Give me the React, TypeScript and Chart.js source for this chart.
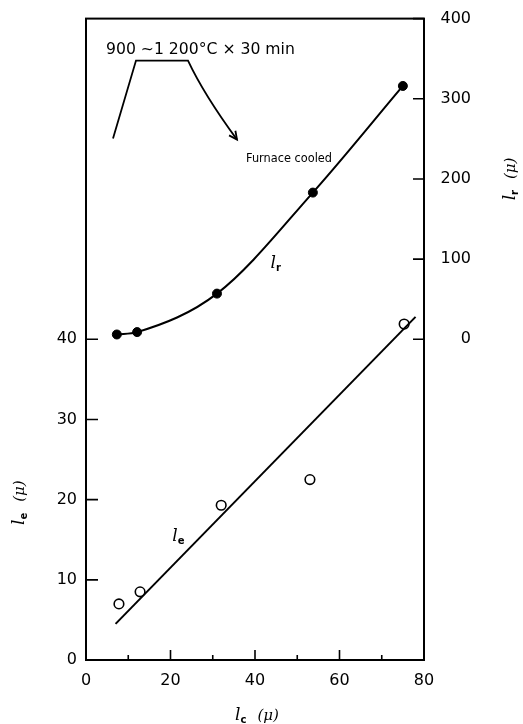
import React, { useEffect, useRef } from "react";
import { Chart, registerables } from "chart.js";

Chart.register(...registerables);

// ---- data ----
const lcFilled = [7.3, 12.1, 31.0, 53.7, 75.0]; // l_c (μ) for l_r points
const lrValues = [6, 9, 57, 183, 316]; // l_r (μ), right axis
const lcOpen = [7.8, 12.8, 32.0, 53.0, 75.3]; // l_c (μ) for l_e points
const leValues = [7.0, 8.5, 19.3, 22.5, 41.9]; // l_e (μ), left axis
const leFitX = [7.0, 78.0];
const leFitY = [4.5, 42.8];

const xTicks = [0, 20, 40, 60, 80];
const xMinorTicks = [10, 30, 50, 70];
const leftTicks = [0, 10, 20, 30, 40];
const rightTicks = [0, 100, 200, 300, 400];

const heatText = "900 ~1 200°C × 30 min";
const coolText = "Furnace cooled";
const unitText = "(μ)";

const SANS = '"DejaVu Sans", sans-serif';
const SERIF = '"DejaVu Serif", serif';

function drawSubLabel(
  ctx: CanvasRenderingContext2D,
  cx: number,
  cy: number,
  rotate: boolean,
  sub: string,
  withUnit: boolean
) {
  ctx.save();
  ctx.translate(cx, cy);
  if (rotate) ctx.rotate(-Math.PI / 2);
  const fMain = `italic 17px ${SERIF}`;
  const fSub = `bold 10px ${SANS}`;
  const fUnit = `italic 15px ${SERIF}`;
  ctx.font = fMain;
  const wl = ctx.measureText("l").width;
  ctx.font = fSub;
  const ws = ctx.measureText(sub).width + 1;
  ctx.font = fUnit;
  const wu = withUnit ? ctx.measureText(unitText).width : 0;
  const gap = withUnit ? 10 : 0;
  const total = wl + ws + gap + wu;
  let x = -total / 2;
  ctx.fillStyle = "#000";
  ctx.textBaseline = "alphabetic";
  ctx.textAlign = "left";
  ctx.font = fMain;
  ctx.fillText("l", x, 6);
  x += wl;
  ctx.font = fSub;
  ctx.fillText(sub, x, 9);
  x += ws + gap;
  if (withUnit) {
    ctx.font = fUnit;
    ctx.fillText(unitText, x, 6);
  }
  ctx.restore();
}

function fitFont(ctx: CanvasRenderingContext2D, text: string, target: number, family: string) {
  ctx.font = `14px ${family}`;
  const w = ctx.measureText(text).width;
  return (14 * target) / w;
}

const decor = {
  id: "decor",
  afterDraw(chart: any) {
    const { ctx, chartArea: a, scales } = chart;
    const sx = scales.x;
    const sy = scales.y;
    const sy2 = scales.y2;
    ctx.save();
    ctx.strokeStyle = "#000";
    ctx.lineWidth = 2;
    ctx.strokeRect(a.left, a.top, a.right - a.left, a.bottom - a.top);

    // inward tick marks
    ctx.lineWidth = 1.6;
    ctx.beginPath();
    leftTicks.forEach((v) => {
      const p = sy.getPixelForValue(v);
      ctx.moveTo(a.left, p);
      ctx.lineTo(a.left + 12, p);
    });
    rightTicks.forEach((v) => {
      const p = sy2.getPixelForValue(v);
      ctx.moveTo(a.right, p);
      ctx.lineTo(a.right - 11, p);
    });
    xTicks.forEach((v) => {
      const p = sx.getPixelForValue(v);
      ctx.moveTo(p, a.bottom);
      ctx.lineTo(p, a.bottom - 10);
    });
    xMinorTicks.forEach((v) => {
      const p = sx.getPixelForValue(v);
      ctx.moveTo(p, a.bottom);
      ctx.lineTo(p, a.bottom - 5);
    });
    ctx.stroke();

    // heat-treatment schematic (top-left inset)
    const L = a.left;
    const T = a.top;
    ctx.lineWidth = 1.8;
    ctx.beginPath();
    ctx.moveTo(L + 27, T + 120);
    ctx.lineTo(L + 50, T + 42);
    ctx.lineTo(L + 102, T + 42);
    ctx.quadraticCurveTo(L + 118, T + 76, L + 151, T + 121);
    ctx.stroke();
    // arrow head
    const tipX = L + 151;
    const tipY = T + 121;
    const ang = Math.atan2(0.81, 0.59);
    ctx.beginPath();
    ctx.moveTo(tipX - 9 * Math.cos(ang - 0.45), tipY - 9 * Math.sin(ang - 0.45));
    ctx.lineTo(tipX, tipY);
    ctx.lineTo(tipX - 9 * Math.cos(ang + 0.45), tipY - 9 * Math.sin(ang + 0.45));
    ctx.stroke();

    ctx.fillStyle = "#000";
    ctx.textAlign = "left";
    ctx.textBaseline = "alphabetic";
    const fs1 = fitFont(ctx, heatText, 189, SANS);
    ctx.font = `${fs1}px ${SANS}`;
    ctx.fillText(heatText, L + 20, T + 35);

    // "Furnace cooled", slightly condensed to the reference width
    ctx.save();
    ctx.font = `13px ${SANS}`;
    const wc = ctx.measureText(coolText).width;
    const sc = 86 / wc;
    ctx.translate(L + 160, T + 140);
    ctx.scale(sc, 1);
    ctx.textBaseline = "middle";
    ctx.fillText(coolText, 0, 0);
    ctx.restore();

    // curve labels
    drawSubLabel(ctx, sx.getPixelForValue(45), sy2.getPixelForValue(96), false, "r", false);
    drawSubLabel(ctx, sx.getPixelForValue(22), sy.getPixelForValue(15.6), false, "e", false);

    // axis titles
    const midLeft = (sy.getPixelForValue(0) + sy.getPixelForValue(40)) / 2;
    drawSubLabel(ctx, 18, midLeft + 3, true, "e", true);
    const midRight = (sy2.getPixelForValue(0) + sy2.getPixelForValue(400)) / 2;
    drawSubLabel(ctx, 509, midRight, true, "r", true);
    drawSubLabel(ctx, (a.left + a.right) / 2 + 2, 714, false, "c", true);

    ctx.restore();
  },
};

export default function App() {
  const ref = useRef<HTMLCanvasElement | null>(null);

  useEffect(() => {
    if (!ref.current) return;
    const tickFont = { family: SANS, size: 16 };
    const chart = new Chart(ref.current, {
      type: "line",
      data: {
        datasets: [
          {
            label: "l_e fit",
            data: leFitX.map((x, i) => ({ x, y: leFitY[i] })),
            yAxisID: "y",
            borderColor: "#000",
            borderWidth: 2,
            pointRadius: 0,
            fill: false,
          },
          {
            label: "l_e",
            data: lcOpen.map((x, i) => ({ x, y: leValues[i] })),
            yAxisID: "y",
            showLine: false,
            pointRadius: 4.8,
            pointBorderWidth: 1.6,
            pointBackgroundColor: "#fff",
            pointBorderColor: "#000",
          },
          {
            label: "l_r",
            data: lcFilled.map((x, i) => ({ x, y: lrValues[i] })),
            yAxisID: "y2",
            borderColor: "#000",
            borderWidth: 2,
            cubicInterpolationMode: "monotone",
            pointRadius: 4.5,
            pointBorderWidth: 1,
            pointBackgroundColor: "#000",
            pointBorderColor: "#000",
            fill: false,
          },
        ],
      },
      options: {
        responsive: false,
        animation: false,
        devicePixelRatio: 1,
        layout: { padding: { top: 17, right: 52, left: 0, bottom: 0 } },
        plugins: { legend: { display: false }, tooltip: { enabled: false } },
        scales: {
          x: {
            type: "linear",
            position: "bottom",
            min: 0,
            max: 80,
            grid: { display: false, drawTicks: false, tickLength: 0 },
            border: { display: false },
            afterBuildTicks: (s: any) => {
              s.ticks = xTicks.map((v) => ({ value: v }));
            },
            afterFit: (s: any) => {
              s.height = 64;
            },
            ticks: { padding: 11, font: tickFont, color: "#000", maxRotation: 0, autoSkip: false },
          },
          y: {
            type: "linear",
            position: "left",
            min: 0,
            max: 80,
            grid: { display: false, drawTicks: false, tickLength: 0 },
            border: { display: false },
            afterBuildTicks: (s: any) => {
              s.ticks = leftTicks.map((v) => ({ value: v }));
            },
            afterFit: (s: any) => {
              s.width = 86;
            },
            ticks: { padding: 9, font: tickFont, color: "#000", autoSkip: false },
          },
          y2: {
            type: "linear",
            position: "right",
            min: -400,
            max: 400,
            grid: { display: false, drawTicks: false, tickLength: 0 },
            border: { display: false },
            afterBuildTicks: (s: any) => {
              s.ticks = rightTicks.map((v) => ({ value: v }));
            },
            afterFit: (s: any) => {
              s.width = 47;
            },
            ticks: { crossAlign: "far", font: tickFont, color: "#000", autoSkip: false },
          },
        },
      } as any,
      plugins: [decor],
    });
    return () => chart.destroy();
  }, []);

  return (
    <div style={{ position: "absolute", left: 0, top: 0, width: 523, height: 724, background: "#fff" }}>
      <canvas ref={ref} width={523} height={724} style={{ display: "block" }} />
    </div>
  );
}
